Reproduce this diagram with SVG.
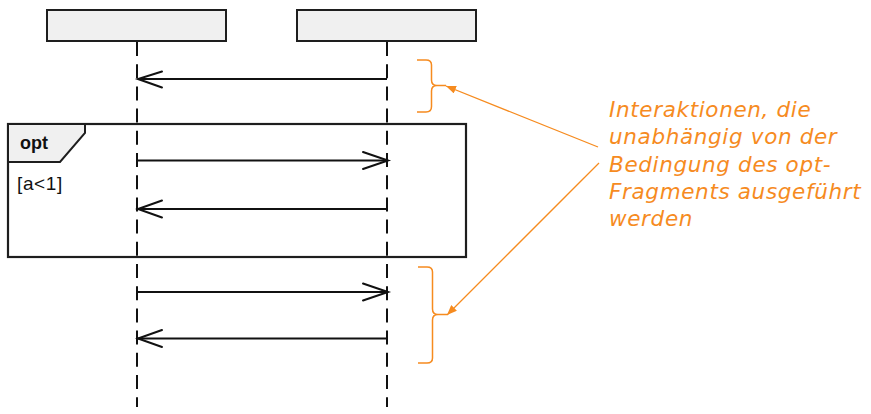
<svg xmlns="http://www.w3.org/2000/svg" width="871" height="414" viewBox="0 0 871 414">
<style>
.box{fill:#f0f0f0;stroke:#1e1e1e;stroke-width:2}
.life{stroke:#111;stroke-width:2;stroke-dasharray:14 8.2;fill:none}
.msg{stroke:#111;stroke-width:2;fill:none}
.head{stroke:#111;stroke-width:2;fill:none;stroke-linecap:round;stroke-linejoin:miter}
.frame{fill:none;stroke:#1e1e1e;stroke-width:2.2}
.tab{fill:#f0f0f0;stroke:#1e1e1e;stroke-width:2}
.brace{fill:none;stroke:#f68b1f;stroke-width:1.5}
.note{stroke:#f68b1f;stroke-width:1.3;fill:none}
.opt{font-family:"Liberation Sans",Arial,sans-serif;font-weight:bold;font-size:18px;fill:#111}
.guard{font-family:"Liberation Sans",Arial,sans-serif;font-size:19px;fill:#111;letter-spacing:0.6px}
.cmt{font-family:"DejaVu Sans",Verdana,sans-serif;font-style:italic;font-size:21.5px;fill:#f68b1f;letter-spacing:0.65px}
</style>
<defs>
<marker id="fill" viewBox="0 0 10 8" refX="10" refY="4" markerWidth="10" markerHeight="8" markerUnits="userSpaceOnUse" orient="auto">
<path d="M0,0 L10,4 L0,8 Z" fill="#f68b1f"/>
</marker>
</defs>
<g id="lifeline-a">
<rect class="box" x="47" y="10" width="179" height="31"/>
<line class="life" x1="137" y1="42" x2="137" y2="407"/>
</g>
<g id="lifeline-b">
<rect class="box" x="297" y="10" width="179" height="31"/>
<line class="life" x1="387" y1="42" x2="387" y2="407"/>
</g>
<g id="opt-fragment">
<rect class="frame" x="8" y="124" width="458" height="133"/>
<path class="tab" d="M8,124 H85 V133 L60,162 H8 Z"/>
<text class="opt" x="20" y="149">opt</text>
<text class="guard" x="17" y="190">[a&lt;1]</text>
</g>
<g id="messages">
<line class="msg" x1="387" y1="79" x2="138" y2="79"/>
<path class="head" d="M162,71.5 L138,79 L162,87.5"/>
<line class="msg" x1="137" y1="160.5" x2="388" y2="160.5"/>
<path class="head" d="M363,152 L388,160.5 L363,169"/>
<line class="msg" x1="387" y1="209" x2="138" y2="209"/>
<path class="head" d="M162,200.5 L138,209 L162,217.5"/>
<line class="msg" x1="137" y1="292" x2="388" y2="292"/>
<path class="head" d="M363,283.5 L388,292 L363,300.5"/>
<line class="msg" x1="387" y1="338.5" x2="138" y2="338.5"/>
<path class="head" d="M162,330 L138,338.5 L162,347"/>
</g>
<g id="braces">
<path class="brace" d="M417,60 H426 Q431.5,60 431.5,65 V80 Q431.5,85.5 437,85.5 H446 M437,85.5 Q431.5,85.5 431.5,91 V106.5 Q431.5,112 426,112 H417"/>
<path class="brace" d="M418,267 H427 Q432.5,267 432.5,272 V309 Q432.5,314.5 438,314.5 H447 M438,314.5 Q432.5,314.5 432.5,320 V358 Q432.5,363 427,363 H418"/>
</g>
<g id="connectors">
<line class="note" x1="598" y1="147" x2="446" y2="86" marker-end="url(#fill)"/>
<line class="note" x1="599" y1="163" x2="447" y2="315" marker-end="url(#fill)"/>
</g>
<g id="comment">
<text class="cmt" x="609" y="117">Interaktionen, die</text>
<text class="cmt" x="609" y="144">unabhängig von der</text>
<text class="cmt" x="609" y="171.5">Bedingung des opt-</text>
<text class="cmt" x="609" y="198.5">Fragments ausgeführt</text>
<text class="cmt" x="609" y="226">werden</text>
</g>
</svg>
